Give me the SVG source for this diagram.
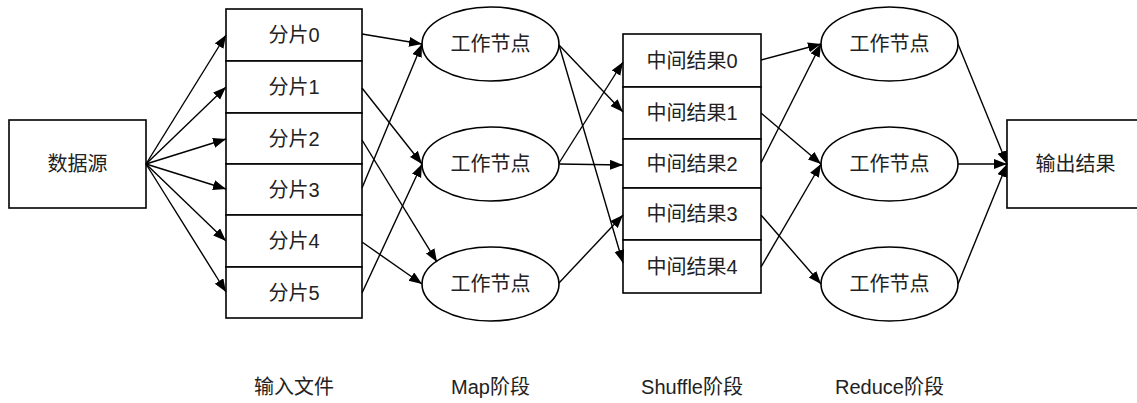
<svg xmlns="http://www.w3.org/2000/svg" width="1137" height="403" viewBox="0 0 1137 403">
<style>
.s{fill:#fff;stroke:#000;stroke-width:1.6}
.t{font-family:"Liberation Sans","Noto Sans CJK SC",sans-serif;font-size:20px;fill:#222;text-anchor:middle;dominant-baseline:central}
.c line{stroke:#000;stroke-width:1.4;marker-end:url(#a)}
</style>
<defs>
<marker id="a" markerUnits="userSpaceOnUse" markerWidth="14" markerHeight="11" refX="13" refY="5" orient="auto">
<path d="M0,0 L13,5 L0,10 z" fill="#000"/>
</marker>
</defs>
<g id="source"><rect class="s" x="9" y="120" width="137" height="88"/><text class="t" x="77.5" y="164">数据源</text></g>
<g id="shards">
<rect class="s" x="226" y="9" width="136" height="52"/><text class="t" x="294" y="35">分片0</text>
<rect class="s" x="226" y="61" width="136" height="52"/><text class="t" x="294" y="87">分片1</text>
<rect class="s" x="226" y="113" width="136" height="51"/><text class="t" x="294" y="138.5">分片2</text>
<rect class="s" x="226" y="164" width="136" height="51"/><text class="t" x="294" y="189.5">分片3</text>
<rect class="s" x="226" y="215" width="136" height="52"/><text class="t" x="294" y="241">分片4</text>
<rect class="s" x="226" y="267" width="136" height="51"/><text class="t" x="294" y="292.5">分片5</text>
</g>
<g id="map1"><ellipse class="s" cx="490.5" cy="44" rx="68.5" ry="37"/><text class="t" x="490.5" y="44">工作节点</text></g>
<g id="map2"><ellipse class="s" cx="490.5" cy="164" rx="68.5" ry="37"/><text class="t" x="490.5" y="164">工作节点</text></g>
<g id="map3"><ellipse class="s" cx="490.5" cy="284" rx="68.5" ry="37"/><text class="t" x="490.5" y="284">工作节点</text></g>
<g id="results">
<rect class="s" x="623" y="34" width="138" height="53"/><text class="t" x="692" y="60.5">中间结果0</text>
<rect class="s" x="623" y="87" width="138" height="52"/><text class="t" x="692" y="113">中间结果1</text>
<rect class="s" x="623" y="139" width="138" height="49"/><text class="t" x="692" y="163.5">中间结果2</text>
<rect class="s" x="623" y="188" width="138" height="52"/><text class="t" x="692" y="214">中间结果3</text>
<rect class="s" x="623" y="240" width="138" height="53"/><text class="t" x="692" y="266.5">中间结果4</text>
</g>
<g id="reduce1"><ellipse class="s" cx="889.5" cy="44" rx="68.5" ry="37"/><text class="t" x="889.5" y="44">工作节点</text></g>
<g id="reduce2"><ellipse class="s" cx="889.5" cy="164" rx="68.5" ry="37"/><text class="t" x="889.5" y="164">工作节点</text></g>
<g id="reduce3"><ellipse class="s" cx="889.5" cy="284" rx="68.5" ry="37"/><text class="t" x="889.5" y="284">工作节点</text></g>
<g id="output"><rect class="s" x="1007" y="120" width="137" height="88"/><text class="t" x="1075.5" y="164">输出结果</text></g>
<g id="connectors" class="c">
<line x1="146" y1="164" x2="226" y2="35"/>
<line x1="146" y1="164" x2="226" y2="87"/>
<line x1="146" y1="164" x2="226" y2="139"/>
<line x1="146" y1="164" x2="226" y2="189"/>
<line x1="146" y1="164" x2="226" y2="241"/>
<line x1="146" y1="164" x2="226" y2="292"/>
<line x1="362" y1="34" x2="422" y2="44"/>
<line x1="362" y1="88" x2="422" y2="164"/>
<line x1="362" y1="140" x2="437" y2="262"/>
<line x1="362" y1="188" x2="422" y2="44"/>
<line x1="362" y1="242" x2="422" y2="284"/>
<line x1="362" y1="293" x2="422" y2="164"/>
<line x1="559" y1="45" x2="623" y2="112"/>
<line x1="559" y1="45" x2="623" y2="263"/>
<line x1="559" y1="163" x2="623" y2="62"/>
<line x1="559" y1="164" x2="623" y2="165"/>
<line x1="559" y1="283" x2="623" y2="215"/>
<line x1="761" y1="60" x2="821" y2="44"/>
<line x1="761" y1="113" x2="821" y2="164"/>
<line x1="761" y1="163" x2="821" y2="44"/>
<line x1="761" y1="215" x2="821" y2="284"/>
<line x1="761" y1="267" x2="821" y2="164"/>
<line x1="958" y1="44" x2="1007" y2="164"/>
<line x1="958" y1="164" x2="1007" y2="164"/>
<line x1="958" y1="284" x2="1007" y2="164"/>
</g>
<g id="labels">
<text class="t" x="294" y="387">输入文件</text>
<text class="t" x="490.5" y="387">Map阶段</text>
<text class="t" x="692" y="387">Shuffle阶段</text>
<text class="t" x="889.5" y="387">Reduce阶段</text>
</g>
</svg>
